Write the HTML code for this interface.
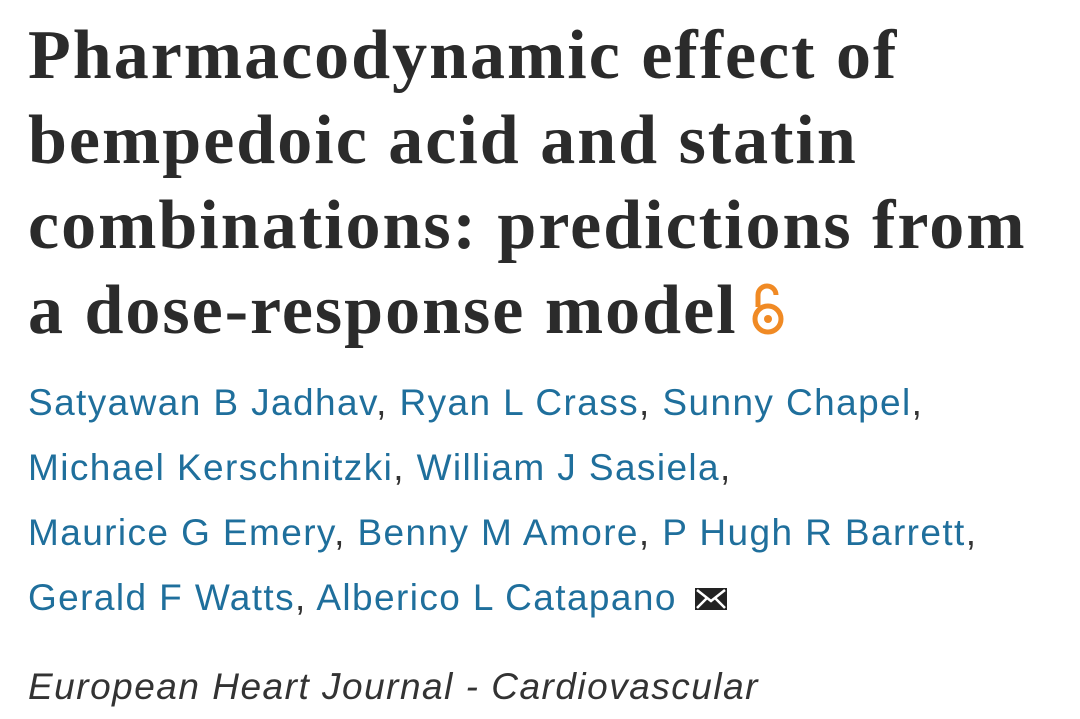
<!DOCTYPE html>
<html><head><meta charset="utf-8"><style>
body{margin:0;width:1080px;height:719px;background:#fff;overflow:hidden;position:relative;}
#title{position:absolute;left:28px;top:13px;margin:0;font-family:"Liberation Serif",serif;font-weight:bold;font-size:70px;line-height:85px;color:#2b2b2b;letter-spacing:2px;white-space:nowrap;}
#authors{position:absolute;left:28px;top:370px;font-family:"Liberation Sans",sans-serif;font-size:37px;line-height:65px;color:#333;letter-spacing:1.4px;white-space:nowrap;}
#authors a{color:#1f6f9c;text-decoration:none;}
#journal{position:absolute;left:28px;top:666px;font-family:"Liberation Sans",sans-serif;font-style:italic;font-size:37px;color:#333;letter-spacing:1.5px;white-space:nowrap;}
</style></head><body>
<h1 id="title">Pharmacodynamic effect of<br>bempedoic acid and statin<br>combinations: predictions from<br>a dose-response model<svg width="40" height="60" viewBox="0 0 40 60" style="vertical-align:-6px;margin-left:10px"><path d="M10 28 V16 a9 9 0 0 1 18 0" fill="none" stroke="#f08a24" stroke-width="5"/><circle cx="20" cy="40" r="13" fill="none" stroke="#f08a24" stroke-width="5"/><circle cx="20" cy="40" r="4" fill="#f08a24"/></svg></h1>
<div id="authors">
<a href="#">Satyawan B Jadhav</a>, <a href="#">Ryan L Crass</a>, <a href="#">Sunny Chapel</a>,<br>
<a href="#">Michael Kerschnitzki</a>, <a href="#">William J Sasiela</a>,<br>
<a href="#">Maurice G Emery</a>, <a href="#">Benny M Amore</a>, <a href="#">P Hugh R Barrett</a>,<br>
<a href="#">Gerald F Watts</a>, <a href="#">Alberico L Catapano</a> <svg width="36" height="26" viewBox="0 0 36 26" style="vertical-align:-2px;margin-left:4px"><rect x="2" y="2" width="32" height="22" fill="#222"/><path d="M4 4 L18 15 L32 4 M4 22 L14 12 M32 22 L22 12" stroke="#fff" stroke-width="2.5" fill="none"/></svg>
</div>
<div id="journal">European Heart Journal - Cardiovascular</div>
</body></html>
